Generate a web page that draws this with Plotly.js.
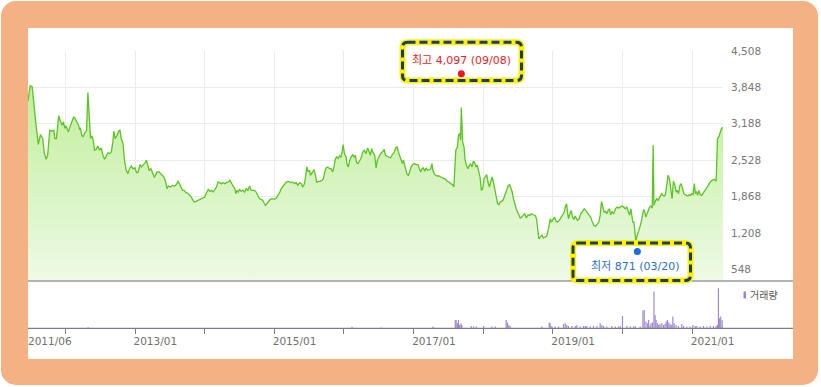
<!DOCTYPE html>
<html><head><meta charset="utf-8">
<script src="https://cdn.plot.ly/plotly-3.0.1.min.js"></script>
<style>
html,body{margin:0;padding:0;background:#fff;width:821px;height:387px;overflow:hidden;}
#frame{position:absolute;left:1px;top:1px;width:817px;height:384px;background:#f4b183;border-radius:15px;}
#inner{position:absolute;left:28px;top:28px;width:765px;height:331px;background:#fff;}
#chart{position:absolute;left:0;top:0;width:821px;height:387px;}
</style></head><body>
<div id="frame"></div><div id="inner"></div><div id="chart"></div>
<script>
// ---------- data ----------
const priceDates = [
'2011-06-20','2011-07-01','2011-07-12','2011-07-22','2011-08-01','2011-08-13','2011-08-24','2011-09-05','2011-09-14','2011-09-23',
'2011-10-01','2011-10-12','2011-10-22','2011-11-02','2011-11-08','2011-11-16','2011-11-28','2011-12-05','2011-12-16','2011-12-23',
'2011-12-30','2012-01-06','2012-01-18','2012-01-29','2012-02-05','2012-02-15','2012-02-22','2012-03-02','2012-03-11','2012-03-16',
'2012-03-21','2012-03-28','2012-04-03','2012-04-11','2012-04-22','2012-04-29','2012-05-06','2012-05-13','2012-05-20','2012-05-27',
'2012-06-03','2012-06-12','2012-06-20','2012-06-29','2012-07-08','2012-07-17','2012-07-26','2012-08-03','2012-08-12','2012-08-21',
'2012-08-30','2012-09-07','2012-09-12','2012-09-19','2012-09-30','2012-10-07','2012-10-14','2012-10-21','2012-10-30','2012-11-07',
'2012-11-16','2012-11-25','2012-12-03','2012-12-12','2012-12-21','2013-01-01','2013-01-09','2013-01-18','2013-01-27','2013-02-04',
'2013-02-13','2013-02-22','2013-03-02','2013-03-11','2013-03-16','2013-03-25','2013-04-01','2013-04-12','2013-04-19','2013-04-26',
'2013-05-07','2013-05-15','2013-05-24','2013-06-02','2013-06-11','2013-06-18','2013-06-25','2013-07-06','2013-07-16','2013-07-27',
'2013-08-05','2013-08-14','2013-08-22','2013-08-31','2013-09-07','2013-09-16','2013-09-25','2013-10-04','2013-10-13','2013-10-23',
'2013-11-01','2013-11-08','2013-11-17','2013-11-27','2013-12-10','2013-12-19',
'2014-01-01','2014-01-11','2014-01-20','2014-01-29','2014-02-07','2014-02-15','2014-02-24','2014-03-04','2014-03-13','2014-03-22',
'2014-03-30','2014-04-08','2014-04-17','2014-04-26','2014-05-04','2014-05-13','2014-05-22','2014-05-30','2014-06-08','2014-06-14',
'2014-06-20','2014-06-27','2014-07-03','2014-07-12','2014-07-21','2014-07-30','2014-08-07','2014-08-16','2014-08-25','2014-09-02',
'2014-09-11','2014-09-20','2014-09-28','2014-10-07','2014-10-16','2014-10-25','2014-11-02','2014-11-11','2014-11-16','2014-11-23',
'2014-11-30','2014-12-11','2014-12-21','2015-01-01','2015-01-12','2015-01-22','2015-01-29','2015-02-07','2015-02-16','2015-02-24',
'2015-03-05','2015-03-14','2015-03-22','2015-03-31','2015-04-09','2015-04-18','2015-04-26','2015-05-05','2015-05-14','2015-05-23',
'2015-05-31','2015-06-09','2015-06-14','2015-06-21','2015-06-28','2015-07-05','2015-07-10','2015-07-15','2015-07-22','2015-07-29',
'2015-08-05','2015-08-12','2015-08-19','2015-08-30','2015-09-09','2015-09-16','2015-09-23','2015-09-30','2015-10-09','2015-10-18',
'2015-10-26','2015-11-04','2015-11-11','2015-11-18','2015-11-25','2015-12-02','2015-12-09','2015-12-17','2015-12-23','2015-12-28',
'2016-01-04','2016-01-13','2016-01-18','2016-01-25','2016-01-30','2016-02-08','2016-02-17','2016-02-25','2016-03-01','2016-03-08',
'2016-03-15','2016-03-22','2016-03-31','2016-04-08','2016-04-17','2016-04-26','2016-05-05','2016-05-13','2016-05-19','2016-05-26',
'2016-05-31',
'2016-06-11','2016-06-18','2016-06-25','2016-07-02','2016-07-09','2016-07-16','2016-07-25','2016-07-30','2016-08-06','2016-08-15',
'2016-08-24','2016-09-02','2016-09-11','2016-09-20','2016-09-29','2016-10-06','2016-10-13','2016-10-20','2016-10-27','2016-11-03',
'2016-11-08','2016-11-14','2016-11-21','2016-11-28','2016-12-05','2016-12-12','2016-12-19','2016-12-26','2017-01-06','2017-01-15',
'2017-01-24','2017-01-31','2017-02-07','2017-02-14','2017-02-21','2017-02-28','2017-03-07','2017-03-14','2017-03-21','2017-03-31',
'2017-04-07','2017-04-12','2017-04-19','2017-04-26','2017-05-05','2017-05-14','2017-05-23','2017-06-01','2017-06-09','2017-06-18',
'2017-06-27','2017-07-06','2017-07-15','2017-07-24','2017-07-31','2017-08-03','2017-08-10','2017-08-18','2017-08-25','2017-09-01',
'2017-09-04','2017-09-08','2017-09-15','2017-09-22','2017-09-28','2017-10-05','2017-10-12','2017-10-19','2017-10-27','2017-11-03',
'2017-11-10','2017-11-17','2017-11-24','2017-12-01','2017-12-08','2017-12-15','2017-12-22','2017-12-29','2018-01-05','2018-01-12',
'2018-01-19','2018-01-26','2018-02-02','2018-02-09','2018-02-16','2018-02-23','2018-03-02','2018-03-10','2018-03-17','2018-03-24',
'2018-03-31','2018-04-07','2018-04-14','2018-04-21','2018-04-28','2018-05-05','2018-05-12','2018-05-19','2018-05-26','2018-06-02',
'2018-06-09','2018-06-16','2018-06-23','2018-06-30','2018-07-07','2018-07-14','2018-07-21','2018-07-28','2018-08-06','2018-08-15',
'2018-08-24','2018-09-02','2018-09-10','2018-09-19','2018-10-01','2018-10-07','2018-10-14','2018-10-20','2018-10-27','2018-11-05',
'2018-11-12','2018-11-21','2018-11-30',
'2018-12-11','2018-12-18','2018-12-25','2019-01-01','2019-01-09','2019-01-18','2019-01-26','2019-02-04','2019-02-13','2019-02-21',
'2019-03-02','2019-03-07','2019-03-14','2019-03-19','2019-03-24','2019-03-31','2019-04-07','2019-04-14','2019-04-21','2019-04-28',
'2019-05-05','2019-05-10','2019-05-19','2019-05-27','2019-06-05','2019-06-14','2019-06-22','2019-07-01','2019-07-09','2019-07-18',
'2019-07-27','2019-08-04','2019-08-13','2019-08-22','2019-08-30','2019-09-06','2019-09-13','2019-09-20','2019-09-27','2019-10-04',
'2019-10-11','2019-10-18','2019-10-24','2019-10-31','2019-11-07','2019-11-16','2019-11-25','2019-12-03','2019-12-12','2019-12-20',
'2019-12-29','2020-01-07','2020-01-15','2020-01-24','2020-02-02','2020-02-07','2020-02-14','2020-02-19','2020-02-24','2020-03-01',
'2020-03-07','2020-03-11','2020-03-18','2020-03-25','2020-04-01','2020-04-08','2020-04-14','2020-04-21','2020-04-27','2020-05-02',
'2020-05-09','2020-05-16','2020-05-22','2020-05-29','2020-06-05','2020-06-10','2020-06-14','2020-06-21','2020-06-28','2020-07-06',
'2020-07-15','2020-07-24','2020-07-31','2020-08-06','2020-08-13','2020-08-20','2020-08-27','2020-09-03','2020-09-10','2020-09-17',
'2020-09-24','2020-10-01','2020-10-08','2020-10-14','2020-10-21','2020-10-28','2020-11-04','2020-11-11','2020-11-18','2020-11-25',
'2020-12-02','2020-12-09','2020-12-16','2020-12-23','2020-12-29','2021-01-05','2021-01-12','2021-01-17','2021-01-23','2021-01-29',
'2021-02-05','2021-02-12','2021-02-19','2021-02-26','2021-03-05','2021-03-15','2021-03-26','2021-04-05','2021-04-15','2021-04-26',
'2021-05-06','2021-05-13','2021-05-20','2021-05-27','2021-06-03','2021-06-11'];
const priceValues = [
3600,3878,3860,3466,3163,2812,2994,2921,2648,2545,
2618,3072,3054,3072,2921,2921,3333,3254,3163,3224,
3103,3151,3042,3163,3224,3315,3284,3224,3163,3090,
3103,2981,2951,3012,3072,3757,3284,2921,2969,2891,
2709,2727,2787,2709,2751,2618,2545,2588,2660,2648,
2678,2860,3054,2921,2981,3054,3072,2921,2830,2527,
2345,2285,2375,2424,2375,2388,2303,2315,2448,2406,
2436,2478,2527,2406,2345,2375,2315,2224,2254,2315,
2315,2285,2254,2224,2133,2012,2060,2042,2072,2060,
2084,2145,2103,2024,1982,1982,1939,1933,1903,1860,
1800,1769,1782,1800,1818,1842,
1860,1939,1999,1963,1982,1951,1999,2042,2133,2121,
2103,2121,2103,2121,2133,2163,2103,2072,2012,1921,
1982,1951,1999,1963,1982,1951,2012,1982,2060,1982,
1982,1982,1951,1903,1830,1818,1800,1739,1709,1739,
1769,1818,1830,1818,1842,1891,1939,2012,2060,2103,
2133,2145,2133,2121,2133,2103,2121,2072,2121,2103,
2042,2103,2224,2406,2315,2345,2254,2285,2315,2357,
2254,2121,2145,2145,2163,2194,2315,2388,2406,2375,
2375,2315,2424,2557,2588,2557,2606,2588,2678,2812,
2648,2588,2448,2406,2497,2588,2630,2588,2618,2485,
2466,2509,2557,2666,2709,2648,2751,2678,2618,2739,
2678,
2618,2388,2527,2588,2630,2666,2691,2727,2618,2600,
2588,2569,2630,2666,2751,2769,2678,2618,2557,2466,
2527,2436,2315,2266,2254,2345,2406,2448,2466,2448,
2448,2375,2315,2375,2388,2327,2388,2345,2357,2363,
2466,2345,2285,2254,2242,2242,2224,2206,2194,2182,
2145,2133,2103,2084,2042,2194,2709,2769,2994,3012,
2891,3484,2860,2769,2527,2436,2375,2424,2466,2406,
2509,2485,2406,2436,2315,2224,1982,2012,2194,2224,
2266,2133,2042,2133,2224,2133,2012,1891,1739,1721,
1769,1782,1800,1860,1921,2012,2072,2084,2012,1951,
1818,1709,1648,1588,1539,1479,1497,1527,1557,1479,
1539,1527,1557,1539,1527,1466,1285,1103,1133,1176,
1115,1133,1151,
1315,1466,1406,1454,1497,1418,1406,1436,1497,1527,
1588,1678,1739,1575,1466,1557,1618,1497,1454,1515,
1479,1436,1466,1557,1600,1648,1618,1575,1527,1497,
1406,1345,1333,1376,1406,1527,1782,1678,1588,1600,
1557,1618,1648,1539,1600,1557,1648,1678,1660,1678,
1697,1678,1648,1678,1600,1527,1648,1527,1406,1406,
1151,1060,1164,1224,1315,1406,1527,1636,1588,1497,
1557,1618,1678,1697,1660,2800,1709,1782,1830,1800,
1878,1921,1891,1878,1903,2072,2254,2194,1951,1830,
2145,2084,1951,1982,1921,2072,2103,1982,1921,1903,
1891,1878,1903,1891,1921,1903,2103,1921,1963,1891,
1982,1903,1891,1921,1963,2012,2072,2133,2163,2182,
2145,2921,2951,3012,3103,3121];

const volDates = [
'2012-04-30','2016-02-13','2016-07-14',
'2017-04-12','2017-08-07','2017-08-12','2017-08-19','2017-08-24','2017-08-30','2017-09-06','2017-09-11','2017-10-30','2017-11-11',
'2017-11-25','2018-01-03','2018-02-15','2018-03-05','2018-05-01','2018-05-08','2018-05-15','2018-05-22','2018-11-04','2018-12-13',
'2018-12-18','2018-12-27','2019-01-13','2019-01-31','2019-02-26','2019-03-07','2019-03-15','2019-03-24','2019-04-11','2019-04-28',
'2019-05-07','2019-05-24','2019-06-11','2019-06-20','2019-06-28','2019-07-16','2019-08-02','2019-08-20','2019-09-06','2019-09-15',
'2019-09-24','2019-10-11','2019-11-06','2019-11-24','2019-12-11','2019-12-20','2020-01-01','2020-01-24','2020-02-11','2020-02-28',
'2020-03-08','2020-04-03','2020-04-17','2020-04-24','2020-05-03','2020-05-12','2020-05-17','2020-05-24','2020-05-29','2020-06-06',
'2020-06-14','2020-06-20','2020-06-25','2020-07-02','2020-07-09','2020-07-16','2020-07-25','2020-08-03','2020-08-11','2020-08-17',
'2020-08-24','2020-08-31','2020-09-07','2020-09-15','2020-09-21','2020-09-28','2020-10-08','2020-10-20','2020-11-07','2020-11-16',
'2020-12-03','2020-12-21','2021-01-04','2021-01-16','2021-01-25','2021-02-11','2021-03-01','2021-03-18','2021-04-05','2021-04-22',
'2021-05-06','2021-05-13','2021-05-18','2021-05-23','2021-05-30','2021-06-06','2021-06-11'];
const volValues = [
100000,150000,80000,
170000,830000,830000,500000,830000,330000,500000,330000,230000,170000,
170000,230000,170000,170000,830000,570000,330000,230000,170000,570000,
500000,230000,170000,170000,430000,500000,330000,230000,230000,230000,
330000,170000,230000,230000,230000,170000,230000,230000,500000,330000,
230000,170000,230000,170000,170000,230000,1230000,230000,170000,170000,
230000,170000,1770000,1830000,670000,500000,830000,230000,500000,570000,
3670000,1330000,830000,500000,330000,430000,500000,330000,430000,670000,
830000,570000,430000,330000,1170000,500000,330000,230000,430000,230000,
170000,170000,330000,230000,230000,170000,230000,170000,230000,230000,
230000,330000,4000000,1000000,1170000,830000,330000];

const yTickVals = [548,1208,1868,2528,3188,3848,4508];
const yTickText = ['548','1,208','1,868','2,528','3,188','3,848','4,508'];
const yearTicks = ['2012-01-01','2013-01-01','2014-01-01','2015-01-01','2016-01-01','2017-01-01','2018-01-01','2019-01-01','2020-01-01','2021-01-01'];
const yearLabels = ['','2013/01','','2015/01','','2017/01','','2019/01','','2021/01'];
const startLabel = '2011/06';
const highDate = '2017-09-08', highValue = 4097, highText = '최고 4,097 (09/08)';
const lowDate = '2020-03-19', lowValue = 871, lowText = '최저 871 (03/20)';
const volumeName = '거래량';

// ---------- layout helpers (pixel -> paper) ----------
const L = 28, T = 28, PW = 765, PH = 331;
const px = x => (x - L) / PW;
const py = y => (T + PH - y) / PH;
function rr(x0, y0, x1, y1, r) {
  const P = (x, y) => px(x).toFixed(5) + ',' + py(y).toFixed(5);
  return 'M' + P(x0 + r, y0) + ' L' + P(x1 - r, y0) + ' Q' + P(x1, y0) + ' ' + P(x1, y0 + r) +
    ' L' + P(x1, y1 - r) + ' Q' + P(x1, y1) + ' ' + P(x1 - r, y1) +
    ' L' + P(x0 + r, y1) + ' Q' + P(x0, y1) + ' ' + P(x0, y1 - r) +
    ' L' + P(x0, y0 + r) + ' Q' + P(x0, y0) + ' ' + P(x0 + r, y0) + ' Z';
}
const XD = [0, px(723)];
const PRICE_DOM = [py(281), py(51)];
const VOL_DOM = [py(328.3), py(281)];
const FONT = 'DejaVu Sans, Noto Sans CJK KR, sans-serif';
const YELLOW = '#fff200', NAVY = '#1f3d63';

function box(x0, y0, x1, y1) {
  return [
    {type: 'path', xref: 'paper', yref: 'paper', path: rr(x0, y0, x1, y1, 5), fillcolor: '#ffffff', line: {color: YELLOW, width: 6}, layer: 'above'},
    {type: 'path', xref: 'paper', yref: 'paper', path: rr(x0, y0, x1, y1, 5), fillcolor: 'rgba(0,0,0,0)', line: {color: NAVY, width: 3, dash: '8px,4px'}, layer: 'above'}
  ];
}
function dot(xv, yv, color) {
  return {type: 'circle', xref: 'x', yref: 'y', xsizemode: 'pixel', ysizemode: 'pixel', xanchor: xv, yanchor: yv,
    x0: -3.5, x1: 3.5, y0: -3.5, y1: 3.5, fillcolor: color, line: {width: 0}, layer: 'above'};
}

const traces = [
  {type: 'scatter', mode: 'lines', x: priceDates, y: priceValues, xaxis: 'x', yaxis: 'y',
   line: {color: '#5cc424', width: 1.3}, fill: 'tozeroy',
   fillgradient: {type: 'vertical', start: 338, stop: 4000, colorscale: [[0, '#eefae6'], [1, '#bfee98']]},
   hoverinfo: 'skip'},
  {type: 'bar', x: volDates, y: volValues, xaxis: 'x2', yaxis: 'y2', width: 6 * 86400000,
   marker: {color: '#9c86cf', line: {width: 0}}, hoverinfo: 'skip'}
];

const layout = {
  width: 821, height: 387,
  margin: {l: L, r: 821 - L - PW, t: T, b: 387 - T - PH},
  paper_bgcolor: 'rgba(0,0,0,0)', plot_bgcolor: 'rgba(0,0,0,0)',
  showlegend: false,
  font: {family: FONT, size: 10.5, color: '#777'},
  xaxis: {domain: XD, type: 'date', range: [priceDates[0], priceDates[priceDates.length - 1]], anchor: 'y',
    tickvals: yearTicks, showticklabels: false, ticks: '', showgrid: true, gridcolor: '#ebebeb', gridwidth: 1,
    zeroline: false, showline: false},
  xaxis2: {domain: XD, type: 'date', matches: 'x', anchor: 'y2', tickvals: yearTicks, ticktext: yearLabels,
    ticks: 'outside', ticklen: 5, tickcolor: '#7d7b94', tickwidth: 1, ticklabelposition: 'outside right',
    ticklabelstandoff: 3, ticklabelshift: -2,
    tickfont: {family: FONT, size: 10.5, color: '#707070'}, showgrid: false, zeroline: false, showline: false},
  yaxis: {domain: PRICE_DOM, range: [338, 4508], side: 'right', anchor: 'x', tickvals: yTickVals, ticktext: yTickText,
    ticks: '', ticklabelstandoff: 7, tickfont: {family: FONT, size: 10.5, color: '#777'},
    showgrid: true, gridcolor: '#ebebeb', gridwidth: 1, zeroline: false, showline: false},
  yaxis2: {domain: VOL_DOM, range: [0, 4730000], anchor: 'x2', showticklabels: false, showgrid: false,
    zeroline: false, showline: false, ticks: ''},
  shapes: [
    {type: 'line', xref: 'paper', yref: 'paper', x0: 0, x1: 1, y0: py(281), y1: py(281), line: {color: '#9a9a9a', width: 1.5}},
    {type: 'line', xref: 'paper', yref: 'paper', x0: 0, x1: 1, y0: py(328.3), y1: py(328.3), line: {color: '#7d7b94', width: 1.2}},
    {type: 'rect', xref: 'paper', yref: 'paper', x0: px(743.5), x1: px(746), y0: py(298.5), y1: py(291.5), fillcolor: '#9c86cf', line: {width: 0}},
    ...box(402.5, 42.3, 521.5, 80.5),
    ...box(573, 243, 690.5, 280.5),
    dot(highDate, highValue, '#f0141e'),
    dot(lowDate, lowValue, '#1a6ee0')
  ],
  annotations: [
    {xref: 'paper', yref: 'paper', x: px(461.5), y: py(61), text: highText, showarrow: false,
     xanchor: 'center', yanchor: 'middle', font: {family: FONT, size: 11, color: '#ee1c25'}},
    {xref: 'paper', yref: 'paper', x: px(635), y: py(266), text: lowText, showarrow: false,
     xanchor: 'center', yanchor: 'middle', font: {family: FONT, size: 11, color: '#2a6fd0'}},
    {xref: 'paper', yref: 'paper', x: px(748), y: py(295), text: volumeName, showarrow: false,
     xanchor: 'left', yanchor: 'middle', font: {family: FONT, size: 10, color: '#555'}},
    {xref: 'paper', yref: 'paper', x: 0, y: py(341), text: startLabel, showarrow: false,
     xanchor: 'left', yanchor: 'middle', xshift: -2, font: {family: FONT, size: 10.5, color: '#707070'}}
  ]
};

Plotly.newPlot('chart', traces, layout, {displayModeBar: false, staticPlot: true});
</script></body></html>
